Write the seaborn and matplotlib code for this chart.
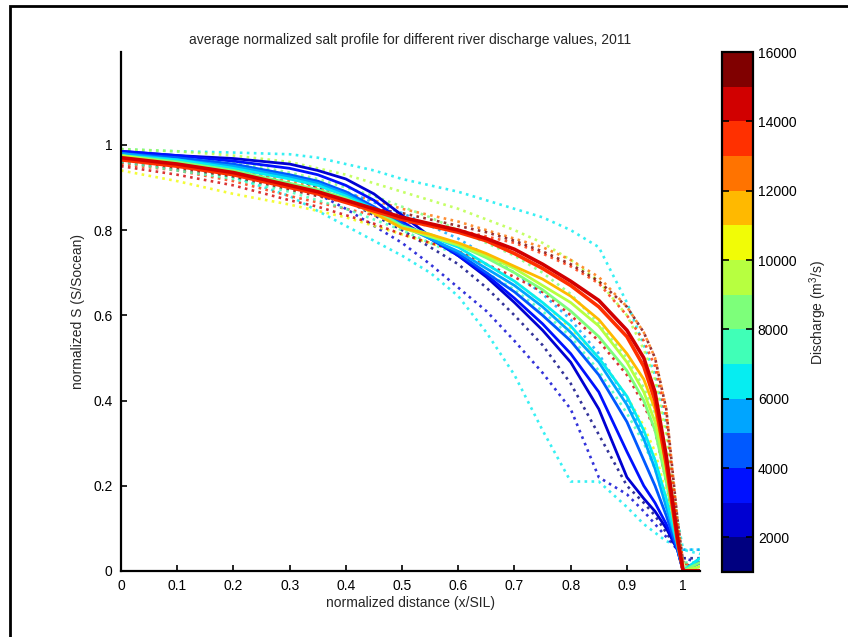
import numpy as np
import pandas as pd
import matplotlib
matplotlib.use("Agg")
import matplotlib.pyplot as plt
from matplotlib.colors import ListedColormap, BoundaryNorm
from matplotlib.patches import Rectangle
import seaborn as sns

# ---------------- data ----------------
x_pos = [0, .1, .2, .3, .35, .4, .45, .5, .55, .6, .65, .7, .75, .8, .85, .9, .93, .95, .97, .99, 1.0, 1.03]

# solid (averaged) profiles and their discharge (m3/s)
solid_q = [2500, 3200, 4500, 5500, 6500, 8500, 9500, 11500, 13500, 14500]
solid_s = [
    [.985, .975, .968, .955, .94, .92, .885, .835, .785, .74, .69, .63, .565, .49, .38, .22, .17, .14, .10, .05, 0, .02],
    [.985, .975, .962, .945, .93, .905, .87, .82, .78, .74, .695, .64, .58, .51, .42, .28, .20, .16, .11, .05, 0, .02],
    [.98, .97, .955, .93, .915, .89, .855, .815, .78, .745, .70, .655, .60, .54, .46, .35, .26, .20, .13, .05, 0, .02],
    [.98, .965, .95, .925, .91, .885, .85, .81, .78, .75, .71, .67, .62, .56, .49, .39, .31, .24, .15, .06, 0, .03],
    [.975, .965, .945, .92, .905, .88, .85, .81, .785, .76, .72, .68, .63, .575, .50, .41, .33, .26, .17, .06, 0, .03],
    [.975, .96, .94, .91, .895, .875, .845, .81, .79, .765, .735, .70, .66, .61, .55, .47, .40, .33, .21, .07, 0, .02],
    [.975, .955, .935, .905, .89, .87, .84, .805, .785, .765, .74, .71, .67, .63, .575, .49, .42, .35, .23, .08, 0, .01],
    [.97, .955, .935, .905, .89, .87, .84, .805, .79, .77, .745, .715, .685, .645, .59, .51, .45, .38, .25, .08, 0, 0],
    [.965, .95, .93, .90, .885, .865, .845, .825, .81, .795, .775, .745, .71, .67, .62, .55, .48, .40, .25, .07, 0, 0],
    [.97, .955, .935, .905, .89, .87, .85, .83, .815, .80, .78, .755, .72, .68, .635, .565, .50, .42, .27, .08, 0, 0],
]

# dotted (individual) profiles and their discharge (m3/s)
dotted_q = [6200, 6000, 2500, 1500, 10200, 9000, 12500, 13500, 15500, 8200, 5200, 7500, 14200]
dotted_s = [
    [.99, .985, .982, .978, .97, .955, .94, .92, .905, .89, .87, .85, .83, .80, .76, .63, .53, .46, .34, .12, .05, .05],
    [.97, .95, .925, .88, .845, .81, .775, .74, .70, .645, .56, .46, .33, .21, .21, .15, .11, .09, .07, .06, .05, .04],
    [.975, .965, .945, .91, .885, .85, .81, .77, .72, .665, .61, .54, .465, .38, .22, .18, .14, .11, .08, .05, .03, .02],
    [.98, .97, .95, .925, .90, .87, .835, .80, .76, .72, .665, .60, .53, .44, .32, .20, .16, .13, .09, .05, .03, .03],
    [.94, .915, .885, .86, .845, .83, .81, .79, .77, .75, .72, .68, .63, .57, .50, .41, .34, .28, .18, .06, 0, .01],
    [.99, .985, .975, .96, .945, .93, .91, .89, .87, .85, .825, .80, .77, .73, .68, .60, .52, .45, .32, .10, .02, .01],
    [.965, .955, .94, .915, .90, .885, .87, .85, .835, .82, .80, .78, .76, .73, .69, .62, .56, .50, .38, .12, .02, 0],
    [.955, .94, .915, .88, .865, .85, .835, .82, .81, .80, .785, .77, .745, .715, .675, .60, .54, .48, .36, .10, .02, 0],
    [.96, .945, .925, .895, .88, .865, .85, .84, .825, .81, .795, .775, .75, .72, .68, .62, .56, .50, .38, .12, .02, 0],
    [.985, .975, .96, .935, .92, .90, .88, .855, .83, .80, .77, .74, .70, .65, .58, .50, .43, .37, .24, .08, .01, .02],
    [.98, .97, .955, .93, .91, .89, .865, .84, .81, .78, .74, .70, .65, .59, .51, .40, .32, .26, .16, .07, .05, .05],
    [.96, .94, .92, .89, .87, .85, .825, .80, .77, .74, .70, .66, .61, .55, .47, .37, .30, .24, .15, .06, .02, .02],
    [.95, .93, .905, .87, .855, .835, .815, .79, .77, .75, .72, .69, .655, .60, .54, .46, .39, .33, .21, .06, 0, 0],
]

x_ticks = [0, .1, .2, .3, .4, .5, .6, .7, .8, .9, 1]
x_ticklabels = ["0", "0.1", "0.2", "0.3", "0.4", "0.5", "0.6", "0.7", "0.8", "0.9", "1"]
y_ticks = [0, .2, .4, .6, .8, 1]
y_ticklabels = ["0", "0.2", "0.4", "0.6", "0.8", "1"]
cb_ticks = [2000, 4000, 6000, 8000, 10000, 12000, 14000, 16000]

# ---------------- style ----------------
sns.set_theme(style="white")
plt.rcParams["font.family"] = ["Liberation Sans", "DejaVu Sans"]
plt.rcParams["mathtext.default"] = "regular"

fig = plt.figure(figsize=(8.48, 6.37), dpi=100)
fig.patch.set_facecolor("white")
ax = fig.add_axes([121 / 848, 1 - 571 / 637, (700 - 121) / 848, (571 - 52) / 637])

levels = np.arange(1000, 16001, 1000)
cmap = ListedColormap(plt.get_cmap("jet")(np.linspace(0, 1, len(levels) - 1)))
norm = BoundaryNorm(levels, cmap.N)

for q, s in zip(dotted_q, dotted_s):
    sns.lineplot(x=x_pos, y=s, ax=ax, color=cmap(norm(q)), linewidth=1.9,
                 linestyle=":", alpha=0.8, legend=False)

order = np.argsort(solid_q)
for i in order:
    lw = 2.6 if solid_q[i] >= 13000 else 2.0
    sns.lineplot(x=x_pos, y=solid_s[i], ax=ax, color=cmap(norm(solid_q[i])),
                 linewidth=lw, legend=False)

ax.set_xlim(0, 1.03)
ax.set_ylim(0, 1.218)
ax.set_xticks(x_ticks)
ax.set_xticklabels(x_ticklabels)
ax.set_yticks(y_ticks)
ax.set_yticklabels(y_ticklabels)
ax.tick_params(direction="in", length=4, width=1.2, labelsize=10, colors="black",
               left=True, bottom=True, pad=6)
for side in ["top", "right"]:
    ax.spines[side].set_visible(False)
for side in ["left", "bottom"]:
    ax.spines[side].set_color("black")
    ax.spines[side].set_linewidth(1.6)

ax.set_xlabel("normalized distance (x/SIL)", fontsize=10, labelpad=2)
ax.set_ylabel("normalized S (S/Socean)", fontsize=10, labelpad=6)
fig.text(410 / 848, 1 - 40 / 637, "average normalized salt profile for different river discharge values, 2011",
         ha="center", va="center", fontsize=10)

# colorbar
cax = fig.add_axes([722 / 848, 1 - 572 / 637, 31 / 848, (572 - 52) / 637])
sm = matplotlib.cm.ScalarMappable(cmap=cmap, norm=norm)
cb = fig.colorbar(sm, cax=cax, ticks=cb_ticks, boundaries=levels)
cb.outline.set_linewidth(1.6)
cb.outline.set_edgecolor("black")
cax.minorticks_off()
cax.set_axisbelow(False)
cax.tick_params(which="both", direction="in", length=5, width=1.2, labelsize=10,
                left=True, right=True, colors="black")
cax.set_yticklabels([str(t) for t in cb_ticks])
cb.set_label("Discharge (m$^3$/s)", fontsize=10, labelpad=8)

# outer frame
fig.patches.append(Rectangle((10 / 848, -0.2), 1.2, 1 - 6 / 637 + 0.2, transform=fig.transFigure,
                             fill=False, edgecolor="black", linewidth=2, clip_on=False))

fig.savefig("out.png", dpi=100, facecolor="white")
